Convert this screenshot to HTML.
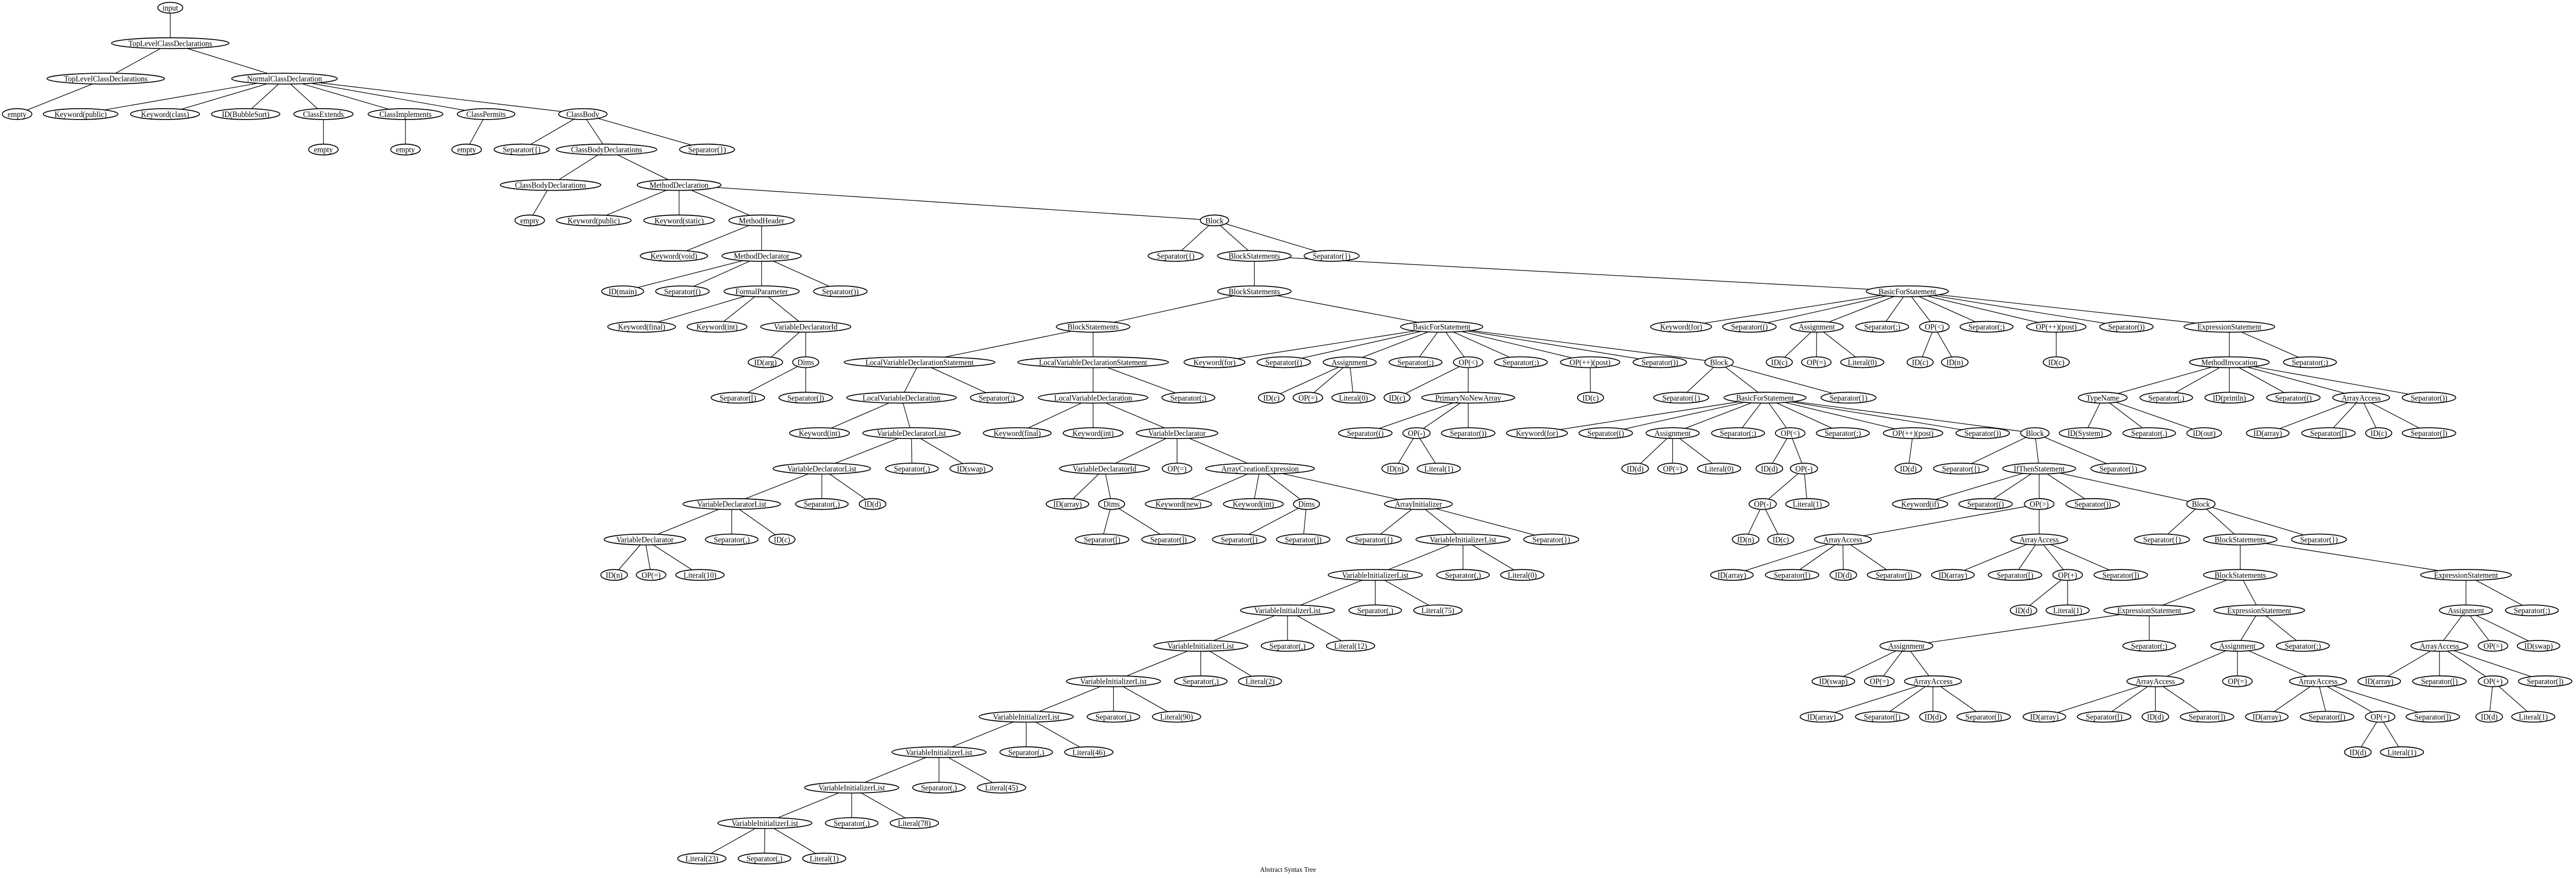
<!DOCTYPE html>
<html><head><meta charset="utf-8">
<style>
html,body{margin:0;padding:0;background:#fff;width:100%;height:100%;overflow:hidden}
svg{position:fixed;left:0;top:0;width:100vw;height:100vh;display:block}
text{font-family:"Liberation Serif",serif;font-size:16px;fill:#000}
</style></head>
<body>
<svg id="g" viewBox="0 0 5432 1704" preserveAspectRatio="none" xmlns="http://www.w3.org/2000/svg">
<rect width="5432" height="1704" fill="#fff"/>
<g id="edges" stroke="#000" stroke-width="1.3" fill="none"></g>
<g id="nodes"></g>
<text x="2716" y="1692" text-anchor="middle" style="font-size:14px">Abstract Syntax Tree</text>
</svg>
<script>
const N=[];function n(l,r,x,p){N.push({l,r,x,p});return N.length-1;}
let a=n('input',0,359,-1);
let b=n('TopLevelClassDeclarations',1,359,a);
let c=n('TopLevelClassDeclarations',2,223,b); n('empty',3,36,c);
let d=n('NormalClassDeclaration',2,600,b);
n('Keyword(public)',3,170,d); n('Keyword(class)',3,348,d); n('ID(BubbleSort)',3,518,d);
let ce=n('ClassExtends',3,682,d); n('empty',4,682,ce);
let ci=n('ClassImplements',3,855,d); n('empty',4,855,ci);
let cp=n('ClassPermits',3,1025,d); n('empty',4,984,cp);
let cb=n('ClassBody',3,1229,d);
n('Separator({)',4,1100,cb);
let cbd=n('ClassBodyDeclarations',4,1279,cb);
n('Separator(})',4,1491,cb);
let cbd2=n('ClassBodyDeclarations',5,1161,cbd); n('empty',6,1117,cbd2);
let md=n('MethodDeclaration',5,1432,cbd);
n('Keyword(public)',6,1252,md); n('Keyword(static)',6,1432,md);
let mh=n('MethodHeader',6,1606,md);
let blk=n('Block',6,2561,md);
n('Keyword(void)',7,1421,mh);
let mdr=n('MethodDeclarator',7,1606,mh);
n('ID(main)',8,1313,mdr); n('Separator(()',8,1439,mdr);
let fp=n('FormalParameter',8,1606,mdr); n('Separator())',8,1772,mdr);
n('Keyword(final)',9,1353,fp); n('Keyword(int)',9,1512,fp);
let vdi=n('VariableDeclaratorId',9,1699,fp);
n('ID(arg)',10,1614,vdi); let dm=n('Dims',10,1699,vdi);
n('Separator([)',11,1556,dm); n('Separator(])',11,1699,dm);
n('Separator({)',7,2479,blk);
let bs1=n('BlockStatements',7,2645,blk);
n('Separator(})',7,2808,blk);
let bs2=n('BlockStatements',8,2645,bs1);
let bf1=n('BasicForStatement',8,4022,bs1);
let bs3=n('BlockStatements',9,2305,bs2);
let bf2=n('BasicForStatement',9,3040,bs2);
let l1=n('LocalVariableDeclarationStatement',10,1939,bs3);
let l2=n('LocalVariableDeclarationStatement',10,2305,bs3);
let lv1=n('LocalVariableDeclaration',11,1901,l1); n('Separator(;)',11,2102,l1);
let lv2=n('LocalVariableDeclaration',11,2305,l2); n('Separator(;)',11,2506,l2);
n('Keyword(int)',12,1728,lv1);
let vdl1=n('VariableDeclaratorList',12,1922,lv1);
let vdl2=n('VariableDeclaratorList',13,1733,vdl1); n('Separator(,)',13,1923,vdl1); n('ID(swap)',13,2048,vdl1);
let vdl3=n('VariableDeclaratorList',14,1543,vdl2); n('Separator(,)',14,1733,vdl2); n('ID(d)',14,1840,vdl2);
let vd1=n('VariableDeclarator',15,1360,vdl3); n('Separator(,)',15,1543,vdl3); n('ID(c)',15,1649,vdl3);
n('ID(n)',16,1295,vd1); n('OP(=)',16,1373,vd1); n('Literal(10)',16,1476,vd1);
n('Keyword(final)',12,2145,lv2); n('Keyword(int)',12,2305,lv2);
let vd2=n('VariableDeclarator',12,2482,lv2);
let vdi2=n('VariableDeclaratorId',13,2329,vd2); n('OP(=)',13,2482,vd2);
let ace=n('ArrayCreationExpression',13,2657,vd2);
n('ID(array)',14,2251,vdi2); let dm2=n('Dims',14,2344,vdi2);
n('Separator([)',15,2324,dm2); n('Separator(])',15,2464,dm2);
n('Keyword(new)',14,2485,ace); n('Keyword(int)',14,2643,ace);
let dm3=n('Dims',14,2755,ace); let ai=n('ArrayInitializer',14,2991,ace);
n('Separator([)',15,2613,dm3); n('Separator(])',15,2748,dm3);
n('Separator({)',15,2897,ai); let v=n('VariableInitializerList',15,3085,ai); n('Separator(})',15,3271,ai);
const vx=[2900,2715,2532,2348,2164,1980,1796,1613], lx=[3210,3032,2848,2657,2481,2296,2112,1928], lv=['0','75','12','2','90','46','45','78'];
for(let i=0;i<8;i++){const px=N[v].x;const ch=n('VariableInitializerList',16+i,vx[i],v);n('Separator(,)',16+i,px,v);n('Literal('+lv[i]+')',16+i,lx[i],v);v=ch;}
n('Literal(23)',24,1480,v);n('Separator(,)',24,1612,v);n('Literal(1)',24,1738,v);
n('Keyword(for)',10,2561,bf2);n('Separator(()',10,2707,bf2);
let as1=n('Assignment',10,2846,bf2);n('Separator(;)',10,2985,bf2);
let op1=n('OP(<)',10,3096,bf2);n('Separator(;)',10,3207,bf2);
let pp1=n('OP(++)(post)',10,3353,bf2);n('Separator())',10,3500,bf2);
let bk2=n('Block',10,3625,bf2);
n('ID(c)',11,2681,as1);n('OP(=)',11,2758,as1);n('Literal(0)',11,2854,as1);
n('ID(c)',11,2946,op1);let pn=n('PrimaryNoNewArray',11,3096,op1);
n('Separator(()',12,2879,pn);let om1=n('OP(-)',12,2987,pn);n('Separator())',12,3096,pn);
n('ID(n)',13,2942,om1);n('Literal(1)',13,3034,om1);
n('ID(c)',11,3354,pp1);
n('Separator({)',11,3545,bk2);let bf3=n('BasicForStatement',11,3722,bk2);n('Separator(})',11,3898,bk2);
n('Keyword(for)',12,3241,bf3);n('Separator(()',12,3386,bf3);
let as2=n('Assignment',12,3527,bf3);n('Separator(;)',12,3665,bf3);
let op2=n('OP(<)',12,3775,bf3);n('Separator(;)',12,3886,bf3);
let pp2=n('OP(++)(post)',12,4034,bf3);n('Separator())',12,4181,bf3);
let bk3=n('Block',12,4291,bf3);
n('ID(d)',13,3448,as2);n('OP(=)',13,3527,as2);n('Literal(0)',13,3625,as2);
n('ID(d)',13,3731,op2);let om2=n('OP(-)',13,3804,op2);
let om3=n('OP(-)',14,3717,om2);n('Literal(1)',14,3811,om2);
n('ID(n)',15,3681,om3);n('ID(c)',15,3755,om3);
n('ID(d)',13,4024,pp2);
n('Separator({)',13,4135,bk3);let it=n('IfThenStatement',13,4300,bk3);n('Separator(})',13,4467,bk3);
n('Keyword(if)',14,4049,it);n('Separator(()',14,4187,it);let gt=n('OP(>)',14,4300,it);n('Separator())',14,4413,it);
let bk4=n('Block',14,4641,it);
let aa1=n('ArrayAccess',15,3886,gt);let aa2=n('ArrayAccess',15,4300,gt);
n('ID(array)',16,3652,aa1);n('Separator([)',16,3779,aa1);n('ID(d)',16,3887,aa1);n('Separator(])',16,3994,aa1);
n('ID(array)',16,4118,aa2);n('Separator([)',16,4249,aa2);let pl1=n('OP(+)',16,4360,aa2);n('Separator(])',16,4472,aa2);
n('ID(d)',17,4267,pl1);n('Literal(1)',17,4360,pl1);
n('Separator({)',15,4559,bk4);let bs4=n('BlockStatements',15,4724,bk4);n('Separator(})',15,4890,bk4);
let bs5=n('BlockStatements',16,4724,bs4);let es3=n('ExpressionStatement',16,5200,bs4);
let es1=n('ExpressionStatement',17,4532,bs5);let es2=n('ExpressionStatement',17,4764,bs5);
let as3=n('Assignment',18,4020,es1);n('Separator(;)',18,4532,es1);
n('ID(swap)',19,3866,as3);n('OP(=)',19,3963,as3);let aa3=n('ArrayAccess',19,4076,as3);
n('ID(array)',20,3841,aa3);n('Separator([)',20,3969,aa3);n('ID(d)',20,4076,aa3);n('Separator(])',20,4183,aa3);
let as4=n('Assignment',18,4718,es2);n('Separator(;)',18,4856,es2);
let aa4=n('ArrayAccess',19,4545,as4);n('OP(=)',19,4718,as4);let aa5=n('ArrayAccess',19,4888,as4);
n('ID(array)',20,4311,aa4);n('Separator([)',20,4437,aa4);n('ID(d)',20,4545,aa4);n('Separator(])',20,4654,aa4);
n('ID(array)',20,4780,aa5);n('Separator([)',20,4907,aa5);let pl2=n('OP(+)',20,5019,aa5);n('Separator(])',20,5130,aa5);
n('ID(d)',21,4972,pl2);n('Literal(1)',21,5065,pl2);
let as5=n('Assignment',17,5200,es3);n('Separator(;)',17,5339,es3);
let aa6=n('ArrayAccess',18,5144,as5);n('OP(=)',18,5257,as5);n('ID(swap)',18,5353,as5);
n('ID(array)',19,5017,aa6);n('Separator([)',19,5144,aa6);let pl3=n('OP(+)',19,5257,aa6);n('Separator(])',19,5367,aa6);
n('ID(d)',20,5249,pl3);n('Literal(1)',20,5342,pl3);
n('Keyword(for)',9,3545,bf1);n('Separator(()',9,3689,bf1);
let as6=n('Assignment',9,3831,bf1);n('Separator(;)',9,3969,bf1);
let op3=n('OP(<)',9,4079,bf1);n('Separator(;)',9,4189,bf1);
let pp3=n('OP(++)(post)',9,4336,bf1);n('Separator())',9,4484,bf1);
let es4=n('ExpressionStatement',9,4701,bf1);
n('ID(c)',10,3752,as6);n('OP(=)',10,3830,as6);n('Literal(0)',10,3927,as6);
n('ID(c)',10,4049,op3);n('ID(n)',10,4122,op3);
n('ID(c)',10,4336,pp3);
let mi=n('MethodInvocation',10,4701,es4);n('Separator(;)',10,4871,es4);
let tn=n('TypeName',11,4434,mi);n('Separator(.)',11,4568,mi);n('ID(println)',11,4701,mi);n('Separator(()',11,4836,mi);
let aa7=n('ArrayAccess',11,4979,mi);n('Separator())',11,5122,mi);
n('ID(System)',12,4397,tn);n('Separator(.)',12,4532,tn);n('ID(out)',12,4648,tn);
n('ID(array)',12,4782,aa7);n('Separator([)',12,4910,aa7);n('ID(c)',12,5016,aa7);n('Separator(])',12,5122,aa7);

const NS='http://www.w3.org/2000/svg';
const E=document.getElementById('edges'),G=document.getElementById('nodes');
const Y=r=>15+68.8*r;
N.forEach(o=>{if(o.p>=0){const p=N[o.p];const l=document.createElementNS(NS,'line');
l.setAttribute('x1',p.x);l.setAttribute('y1',Y(p.r));l.setAttribute('x2',o.x);l.setAttribute('y2',Y(o.r));E.appendChild(l);}});
N.forEach(o=>{const y=Y(o.r);
const e=document.createElementNS(NS,'ellipse');const t=document.createElementNS(NS,'text');
t.setAttribute('x',o.x);t.setAttribute('y',y+5.5);t.setAttribute('text-anchor','middle');t.textContent=o.l;
e.setAttribute('cx',o.x);e.setAttribute('cy',y);e.setAttribute('ry',10.5);e.setAttribute('fill','#fff');e.setAttribute('stroke','#000');e.setAttribute('stroke-width','1.8');
G.appendChild(e);G.appendChild(t);
let w=0;try{w=t.getComputedTextLength();}catch(_){}
if(!w)w=o.l.length*7.2;
e.setAttribute('rx',Math.max(w*0.68+4,16));});
</script>
</body></html>
